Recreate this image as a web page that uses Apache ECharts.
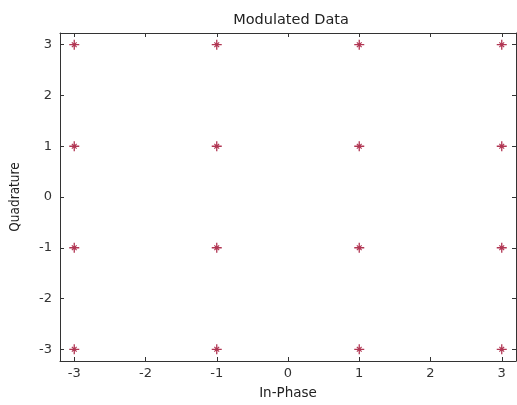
<!DOCTYPE html>
<html>
<head>
<meta charset="utf-8">
<script src="https://cdn.jsdelivr.net/npm/echarts@6/dist/echarts.min.js"></script>
<style>
  html, body { margin: 0; padding: 0; background: #fff; }
  #chart { width: 517px; height: 405px; }
</style>
</head>
<body>
<div id="chart"></div>
<script>
// 16-QAM constellation points
const inPhase    = [-3, -3, -3, -3, -1, -1, -1, -1, 1, 1, 1, 1, 3, 3, 3, 3];
const quadrature = [ 3,  1, -1, -3,  3,  1, -1, -3, 3, 1, -1, -3, 3, 1, -1, -3];
const xTicks = [-3, -2, -1, 0, 1, 2, 3];
const yTicks = [-3, -2, -1, 0, 1, 2, 3];

const points = inPhase.map((x, i) => [x, quadrature[i]]);

// asterisk marker: plus with short diagonal strokes
const asterisk = 'path://M4.35,0H5.65V10H4.35Z M0,4.35H10V5.65H0Z ' +
  'M2.2,3.0L3.0,2.2L7.8,7.0L7.0,7.8Z M7.0,2.2L7.8,3.0L3.0,7.8L2.2,7.0Z';

const font = 'DejaVu Sans';
const axisColor = '#333';

function axis(extra, ticks) {
  return Object.assign({
    type: 'value',
    interval: 1,
    axisLine: { show: true, onZero: false, lineStyle: { color: axisColor, width: 1 } },
    axisTick: { show: true, inside: true, length: 4, lineStyle: { color: axisColor }, customValues: ticks },
    splitLine: { show: false }
  }, extra);
}

const chart = echarts.init(document.getElementById('chart'), null, { renderer: 'canvas' });
chart.setOption({
  animation: false,
  backgroundColor: '#fff',
  title: {
    text: 'Modulated Data',
    left: 286, top: 8, textAlign: 'center',
    textStyle: { fontFamily: font, fontSize: 14.5, fontWeight: 'normal', color: '#222' }
  },
  grid: { left: 60, right: 1, top: 33, bottom: 39 },
  xAxis: [
    axis({
      position: 'bottom', min: -3.2, max: 3.2,
      axisLabel: { color: '#333', fontFamily: font, fontSize: 13, margin: 6, customValues: xTicks },
      name: 'In-Phase', nameLocation: 'middle', nameGap: 25,
      nameTextStyle: { fontFamily: font, fontSize: 13.5, color: '#222' }
    }, xTicks),
    axis({
      position: 'top', min: -3.2, max: 3.2,
      axisLabel: { show: false }
    }, xTicks)
  ],
  yAxis: [
    axis({
      position: 'left', min: -3.23, max: 3.23,
      axisLabel: { color: '#333', fontFamily: font, fontSize: 13, margin: 8, customValues: yTicks },
      name: 'Quadrature', nameLocation: 'middle', nameGap: 38, nameRotate: 90,
      nameTextStyle: { fontFamily: 'DejaVu Sans Condensed', fontSize: 13.5, color: '#222' }
    }, yTicks),
    axis({
      position: 'right', min: -3.23, max: 3.23,
      axisLabel: { show: false }
    }, yTicks)
  ],
  series: [{
    type: 'scatter',
    xAxisIndex: 0, yAxisIndex: 0,
    data: points,
    symbol: asterisk,
    symbolSize: 10,
    itemStyle: { color: '#a82040', opacity: 0.9 }
  }]
});
</script>
</body>
</html>
